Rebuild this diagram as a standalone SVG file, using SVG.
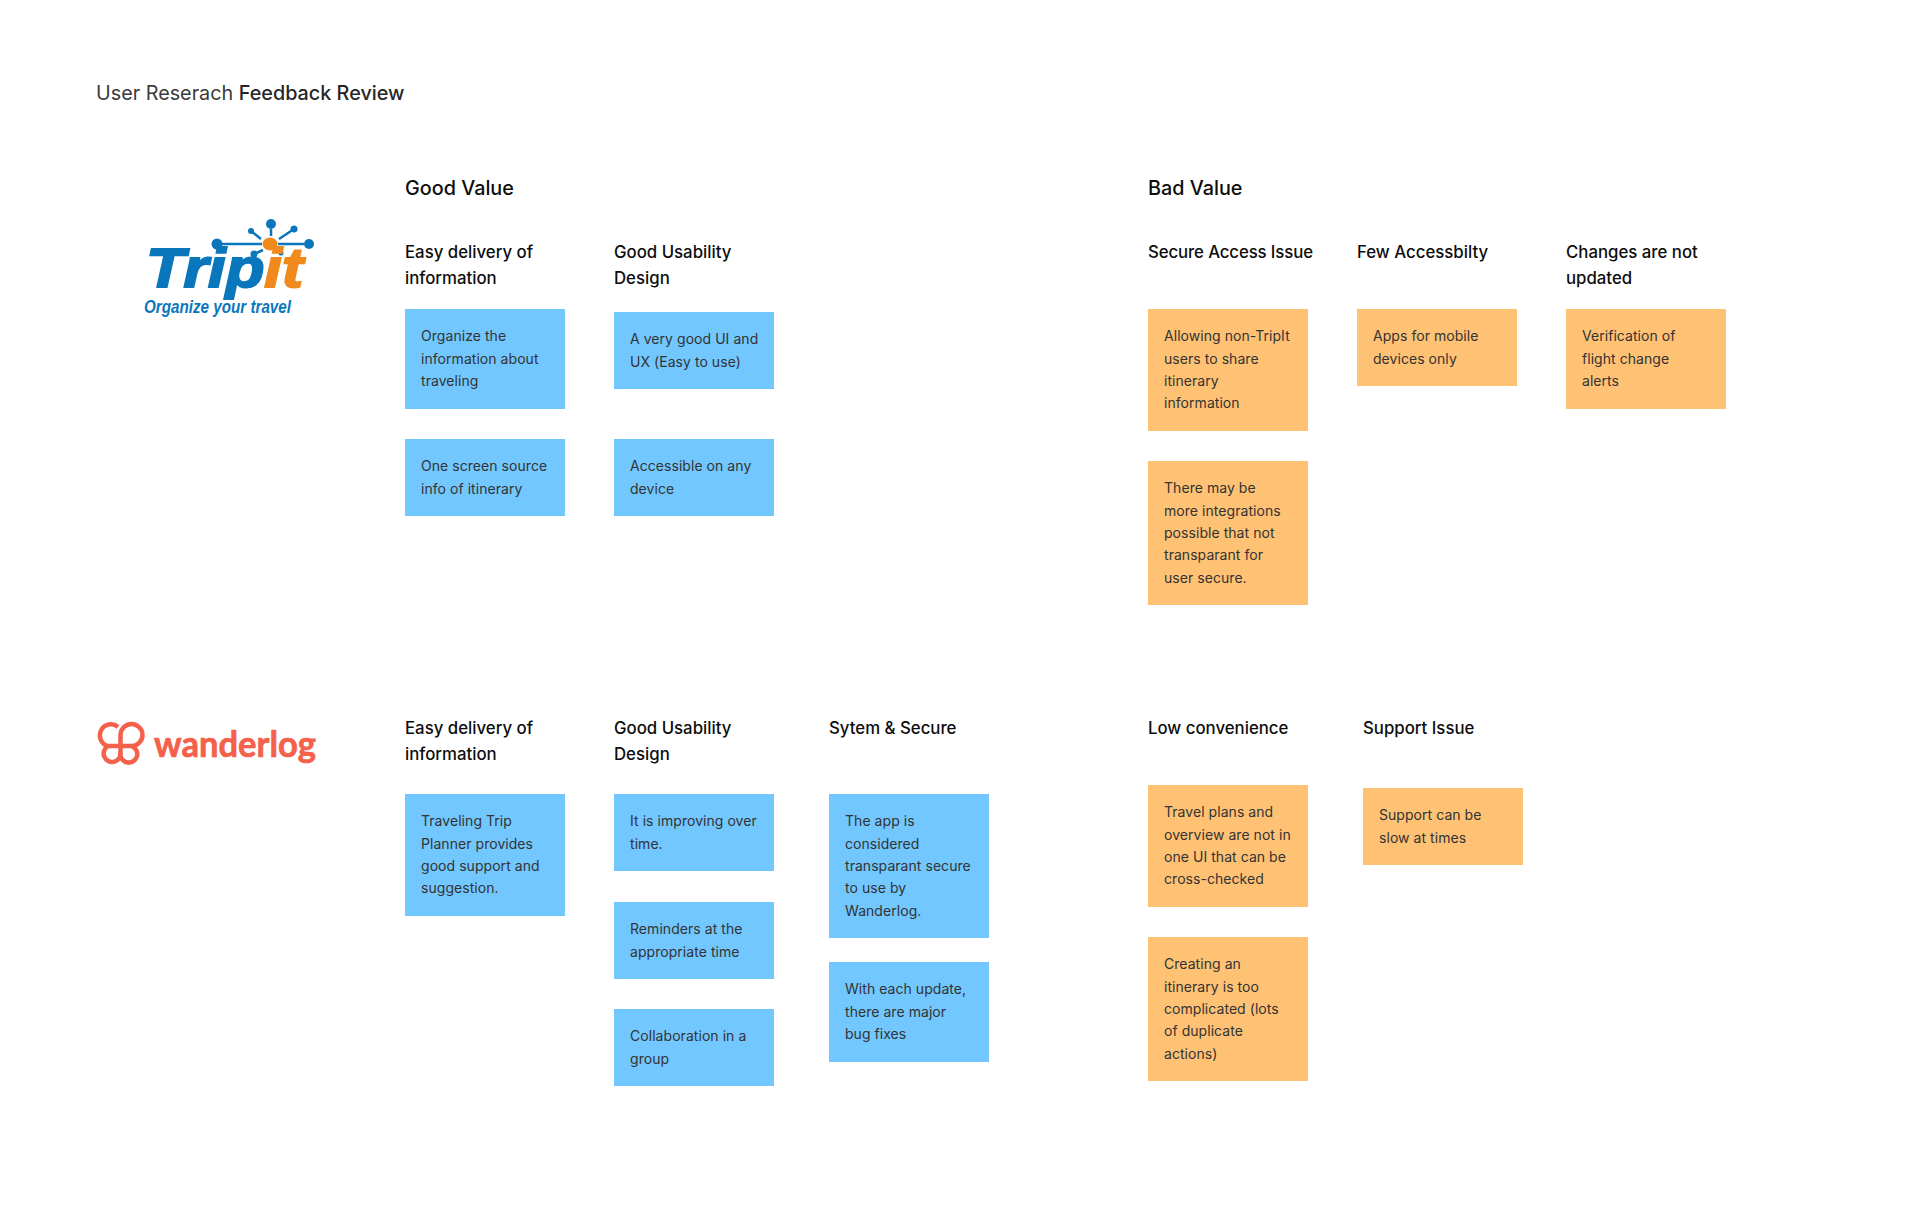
<svg xmlns="http://www.w3.org/2000/svg" width="1926" height="1226" viewBox="0 0 1926 1226">
<style>
text{font-family:Inter,"Noto Sans","Liberation Sans",sans-serif}
.t{font-size:19.8px;fill:#3a3a3a;font-weight:400}
.g{font-size:19.8px;font-weight:500;fill:#0d0d0d}
.h{font-size:16.8px;font-weight:500;fill:#0d0d0d}
.n{font-size:14px;fill:#333;letter-spacing:.05px}
.b{fill:#72C7FF}
.o{fill:#FFC274}
.l{stroke:#0a76bb;stroke-width:2.5;fill:none}
.d{fill:#0a76bb}
.w{fill:none;stroke:#F4604A;stroke-width:4.5}
</style>
<rect width="1926" height="1226" fill="#fff"/>
<g id="title"><text class="t" x="96" y="100">User Reserach <tspan font-weight="500" fill="#262626">Feedback Review</tspan></text></g>
<g id="logo-tripit">
<path class="l" d="M222 244H262M278 244H304M271 229V236M251 231L261 239M294 229L279 239M254 254L263 250M281 253L278 251"/>
<circle class="d" cx="271" cy="224" r="5"/><circle class="d" cx="309" cy="244" r="5"/><circle class="d" cx="217" cy="244" r="5.5"/><circle class="d" cx="251" cy="231" r="3"/><circle class="d" cx="294" cy="229" r="3.5"/><circle class="d" cx="254" cy="254" r="3.5"/><circle class="d" cx="281" cy="253" r="2.5"/>
<text x="146" y="287" font-size="56" font-weight="700" font-style="italic" stroke-width="2" textLength="157" lengthAdjust="spacingAndGlyphs" style="font-family:'Liberation Sans',sans-serif"><tspan fill="#0a76bb" stroke="#0a76bb">Trip</tspan><tspan fill="#F08A1D" stroke="#F08A1D">it</tspan></text>
<ellipse cx="270" cy="244" rx="7.500" ry="6.500" fill="#F08A1D"/>
<text x="144" y="313" font-size="19" font-weight="700" font-style="italic" fill="#0a76bb" textLength="147" lengthAdjust="spacingAndGlyphs" style="font-family:'Liberation Sans',sans-serif">Organize your travel</text>
</g>
<g id="logo-wanderlog">
<path class="w" d="M118 727A11 11 0 1 0 108 746H131.500A11 11 0 1 0 120.500 735V752A8.500 8.500 0 1 1 108 746M131.500 746A8.500 8.500 0 1 1 120.500 752"/>
<text x="154" y="757" font-size="36" font-weight="700" fill="#F4604A" stroke="#F4604A" stroke-width=".7" textLength="162" lengthAdjust="spacingAndGlyphs" style="font-family:Lato,sans-serif">wanderlog</text>
</g>
<g id="group-labels">
<text class="g" x="405" y="195">Good Value</text>
<text class="g" x="1148" y="195">Bad Value</text>
</g>
<g id="col-easy-1"><text class="h" x="405" y="258">Easy delivery of</text><text class="h" x="405" y="284">information</text></g>
<g id="col-usability-1"><text class="h" x="614" y="258">Good Usability</text><text class="h" x="614" y="284">Design</text></g>
<g id="col-secure-access"><text class="h" x="1148" y="258" textLength="165" lengthAdjust="spacing">Secure Access Issue</text></g>
<g id="col-few"><text class="h" x="1357" y="258">Few Accessbilty</text></g>
<g id="col-changes"><text class="h" x="1566" y="258">Changes are not</text><text class="h" x="1566" y="284">updated</text></g>
<g id="col-easy-2"><text class="h" x="405" y="734">Easy delivery of</text><text class="h" x="405" y="760">information</text></g>
<g id="col-usability-2"><text class="h" x="614" y="734">Good Usability</text><text class="h" x="614" y="760">Design</text></g>
<g id="col-system"><text class="h" x="829" y="734">Sytem &amp; Secure</text></g>
<g id="col-low"><text class="h" x="1148" y="734">Low convenience</text></g>
<g id="col-support"><text class="h" x="1363" y="734">Support Issue</text></g>

<g id="n1"><rect class="b" x="405" y="309" width="160" height="100"/><text class="n" x="421" y="341">Organize the</text><text class="n" x="421" y="364">information about</text><text class="n" x="421" y="386">traveling</text></g>
<g id="n2"><rect class="b" x="405" y="439" width="160" height="77"/><text class="n" x="421" y="471">One screen source</text><text class="n" x="421" y="494">info of itinerary</text></g>
<g id="n3"><rect class="b" x="614" y="312" width="160" height="77"/><text class="n" x="630" y="344">A very good UI and</text><text class="n" x="630" y="367">UX (Easy to use)</text></g>
<g id="n4"><rect class="b" x="614" y="439" width="160" height="77"/><text class="n" x="630" y="471">Accessible on any</text><text class="n" x="630" y="494">device</text></g>
<g id="n5"><rect class="o" x="1148" y="309" width="160" height="122"/><text class="n" x="1164" y="341">Allowing non-TripIt</text><text class="n" x="1164" y="364">users to share</text><text class="n" x="1164" y="386">itinerary</text><text class="n" x="1164" y="408">information</text></g>
<g id="n6"><rect class="o" x="1148" y="461" width="160" height="144"/><text class="n" x="1164" y="493">There may be</text><text class="n" x="1164" y="516">more integrations</text><text class="n" x="1164" y="538">possible that not</text><text class="n" x="1164" y="560">transparant for</text><text class="n" x="1164" y="583">user secure.</text></g>
<g id="n7"><rect class="o" x="1357" y="309" width="160" height="77"/><text class="n" x="1373" y="341">Apps for mobile</text><text class="n" x="1373" y="364">devices only</text></g>
<g id="n8"><rect class="o" x="1566" y="309" width="160" height="100"/><text class="n" x="1582" y="341">Verification of</text><text class="n" x="1582" y="364">flight change</text><text class="n" x="1582" y="386">alerts</text></g>
<g id="n9"><rect class="b" x="405" y="794" width="160" height="122"/><text class="n" x="421" y="826">Traveling Trip</text><text class="n" x="421" y="849">Planner provides</text><text class="n" x="421" y="871">good support and</text><text class="n" x="421" y="893">suggestion.</text></g>
<g id="n10"><rect class="b" x="614" y="794" width="160" height="77"/><text class="n" x="630" y="826">It is improving over</text><text class="n" x="630" y="849">time.</text></g>
<g id="n11"><rect class="b" x="614" y="902" width="160" height="77"/><text class="n" x="630" y="934">Reminders at the</text><text class="n" x="630" y="957">appropriate time</text></g>
<g id="n12"><rect class="b" x="614" y="1009" width="160" height="77"/><text class="n" x="630" y="1041">Collaboration in a</text><text class="n" x="630" y="1064">group</text></g>
<g id="n13"><rect class="b" x="829" y="794" width="160" height="144"/><text class="n" x="845" y="826">The app is</text><text class="n" x="845" y="849">considered</text><text class="n" x="845" y="871">transparant secure</text><text class="n" x="845" y="893">to use by</text><text class="n" x="845" y="916">Wanderlog.</text></g>
<g id="n14"><rect class="b" x="829" y="962" width="160" height="100"/><text class="n" x="845" y="994">With each update,</text><text class="n" x="845" y="1017">there are major</text><text class="n" x="845" y="1039">bug fixes</text></g>
<g id="n15"><rect class="o" x="1148" y="785" width="160" height="122"/><text class="n" x="1164" y="817">Travel plans and</text><text class="n" x="1164" y="840">overview are not in</text><text class="n" x="1164" y="862">one UI that can be</text><text class="n" x="1164" y="884">cross-checked</text></g>
<g id="n16"><rect class="o" x="1148" y="937" width="160" height="144"/><text class="n" x="1164" y="969">Creating an</text><text class="n" x="1164" y="992">itinerary is too</text><text class="n" x="1164" y="1014">complicated (lots</text><text class="n" x="1164" y="1036">of duplicate</text><text class="n" x="1164" y="1059">actions)</text></g>
<g id="n17"><rect class="o" x="1363" y="788" width="160" height="77"/><text class="n" x="1379" y="820">Support can be</text><text class="n" x="1379" y="843">slow at times</text></g>
</svg>
